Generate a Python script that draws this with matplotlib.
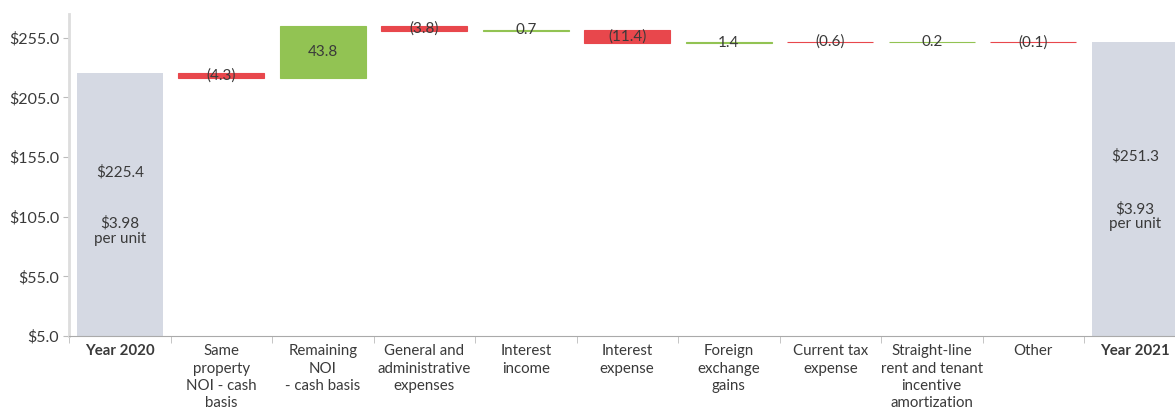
import numpy as np
import matplotlib.pyplot as plt
import matplotlib

plt.rcParams['font.family'] = ['Lato', 'DejaVu Sans']

categories = ['Year 2020', 'Same\nproperty\nNOI - cash\nbasis', 'Remaining\nNOI\n- cash basis',
              'General and\nadministrative\nexpenses', 'Interest\nincome', 'Interest\nexpense',
              'Foreign\nexchange\ngains', 'Current tax\nexpense',
              'Straight-line\nrent and tenant\nincentive\namortization', 'Other', 'Year 2021']
start_total = 225.4
changes = [-4.3, 43.8, -3.8, 0.7, -11.4, 1.4, -0.6, 0.2, -0.1]
end_total = 251.3
per_unit = ['$3.98', '$3.93']
y_ticks = [5, 55, 105, 155, 205, 255]

gray = '#d5d9e3'
red = '#e8474c'
green = '#92c353'
txt = '#3a3a3a'
base = 5.0

fig = plt.figure(figsize=(11.75, 4.17), dpi=100)
ax = fig.add_axes([69 / 1175, 1 - 336 / 417, 1116.5 / 1175, (336 - 14) / 417])

x = np.arange(len(categories))
w = 0.85

# totals
ax.bar(x[0], start_total - base, bottom=base, width=w, color=gray)
ax.bar(x[-1], end_total - base, bottom=base, width=w, color=gray)

running = start_total
for i, c in enumerate(changes):
    col = green if c > 0 else red
    bottom = running if c > 0 else running + c
    ax.bar(x[i + 1], abs(c), bottom=bottom, width=w, color=col,
           edgecolor=col, linewidth=0.8)
    lab = '%.1f' % c if c > 0 else '(%.1f)' % abs(c)
    ax.text(x[i + 1], bottom + abs(c) / 2, lab, ha='center', va='center',
            fontsize=11, color=txt)
    running += c

# per unit labels inside the total bars
ax.text(x[0], 142.5, '$%.1f' % start_total, ha='center', va='center', fontsize=11, color=txt)
ax.text(x[0], 93, per_unit[0] + '\nper unit', ha='center', va='center',
        fontsize=11, color=txt, linespacing=1.2)
ax.text(x[-1], 155.5, '$%.1f' % end_total, ha='center', va='center', fontsize=11, color=txt)
ax.text(x[-1], 105, per_unit[1] + '\nper unit', ha='center', va='center',
        fontsize=11, color=txt, linespacing=1.0)

ax.set_xlim(-0.5, len(categories) - 0.5)
ax.set_ylim(base, 275)
ax.set_yticks(y_ticks)
ax.set_yticklabels(['$%.1f' % v for v in y_ticks], fontsize=11.5, color=txt)
ax.set_xticks(x)
ax.set_xticklabels(categories, fontsize=10.8, color=txt, linespacing=1.3, va='top')
for lbl in (ax.get_xticklabels()[0], ax.get_xticklabels()[-1]):
    lbl.set_fontweight('bold')
ax.set_xticks(np.arange(len(categories) + 1) - 0.5, minor=True)
ax.tick_params(axis='x', which='major', length=0, pad=6)
ax.tick_params(axis='x', which='minor', length=5, color='#bbbbbb')
ax.tick_params(axis='y', length=4, color='#bbbbbb', pad=3)

for s in ['top', 'right']:
    ax.spines[s].set_visible(False)
ax.spines['left'].set_color('#dddddd')
ax.spines['left'].set_linewidth(2)
ax.spines['bottom'].set_color('#aaaaaa')

fig.savefig('out.png', dpi=100)
